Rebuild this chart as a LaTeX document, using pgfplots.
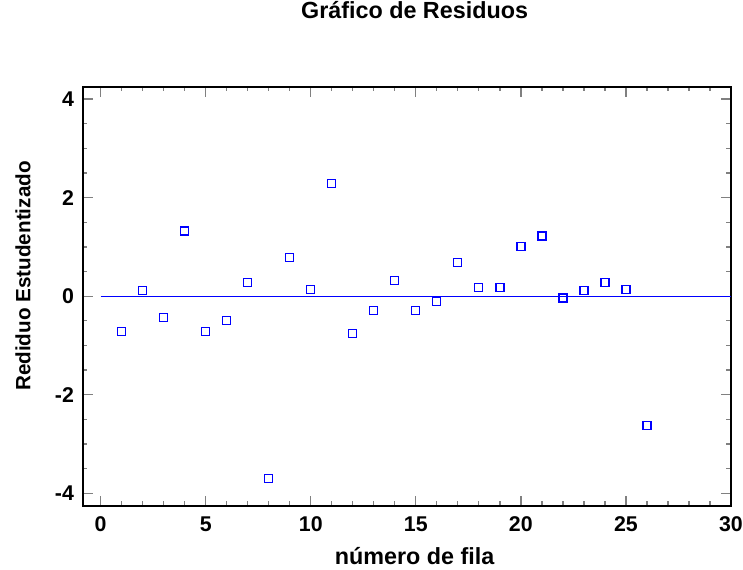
\documentclass[border=0pt]{standalone}
\usepackage{fontspec}
\setmainfont{Liberation Sans}
\usepackage{pgfplots}
\pgfplotsset{compat=1.18}
\definecolor{mblue}{RGB}{0,0,255}
\begin{document}
\begin{tikzpicture}
\useasboundingbox (0,0) rectangle (557.25pt,426.75pt);
\begin{axis}[
  at={(62.0pt,47.5pt)}, anchor=south west,
  scale only axis, width=486.2pt, height=314.25pt,
  xmin=-0.857, xmax=30, ymin=-4.25, ymax=4.25,
  xtick={0,5,...,30}, ytick={-4,-2,0,2,4},
  minor x tick num=4, minor y tick num=3,
  tick align=inside,
  major tick length=7.5pt, minor tick length=3.5pt,
  axis line style={line width=1.3pt},
  major tick style={line width=1pt},
  minor tick style={line width=1pt},
  /pgf/number format/assume math mode=true,
  ticklabel style={font=\fontsize{16}{18}\selectfont\bfseries},
  yticklabel style={xshift=-3pt},
  xticklabel style={yshift=-5pt},
  title={Gráfico de Residuos},
  title style={font=\fontsize{17.5}{20}\selectfont\bfseries, at={(axis description cs:0.512,1.164)}, anchor=center},
  xlabel={número de fila},
  xlabel style={font=\fontsize{17.5}{20}\selectfont\bfseries, at={(axis description cs:0.512,-0.12)}, anchor=center},
  ylabel={Rediduo Estudentizado},
  ylabel style={font=\fontsize{15.5}{18}\selectfont\bfseries, at={(axis description cs:-0.092,0.548)}, anchor=center, rotate=0},
  clip=false,
]
\addplot[mblue, line width=0.9pt] coordinates {(0,0) (30,0)};
\addplot[draw=mblue, only marks, mark=square, mark size=3pt, line width=1pt] coordinates {
(1,-0.72) (2,0.11) (3,-0.43) (4,1.32) (5,-0.72) (6,-0.50) (7,0.28) (8,-3.70)
(9,0.78) (10,0.14) (11,2.29) (12,-0.76) (13,-0.29) (14,0.32) (15,-0.29) (16,-0.11)
(17,0.68) (18,0.18) (19,0.18) (20,1.01) (21,1.22) (22,-0.04) (23,0.11) (24,0.28)
(25,0.14) (26,-2.62)
};
\end{axis}
\end{tikzpicture}
\end{document}
